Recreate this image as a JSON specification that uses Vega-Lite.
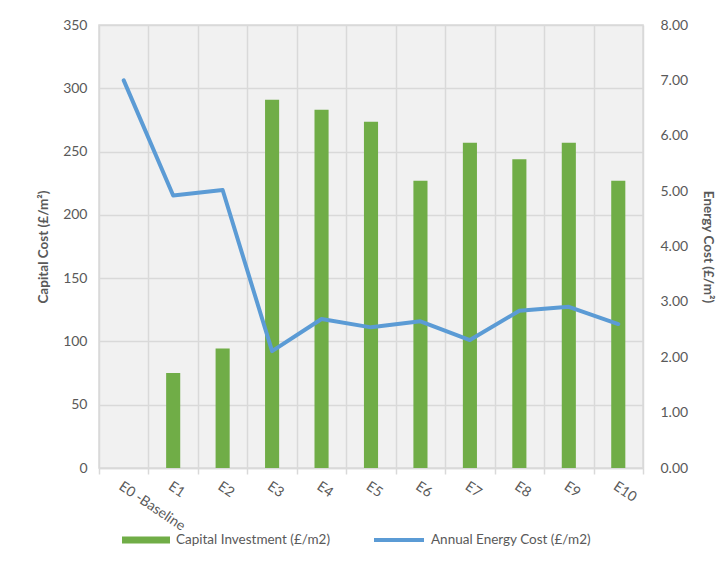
{
  "$schema": "https://vega.github.io/schema/vega-lite/v6.json",
  "autosize": {"type": "none"},
  "width": 544,
  "height": 443,
  "padding": {"left": 99, "top": 25, "right": 81, "bottom": 94},
  "background": "white",
  "config": {
    "font": "Lato",
    "view": {"fill": "#f1f1f1", "stroke": "#d9d9d9", "strokeWidth": 1.5},
    "axis": {"labelColor": "#595959", "titleColor": "#595959", "labelFont": "Lato", "titleFont": "Lato", "gridColor": "#d9d9d9", "gridWidth": 1.5, "domainColor": "#d9d9d9", "tickColor": "#d9d9d9"},
    "legend": {"labelFont": "Lato", "labelColor": "#595959", "labelFontSize": 13.5}
  },
  "data": {
    "values": [
      {"scenario": "E0 -Baseline", "capital": null, "energy": 7.0},
      {"scenario": "E1", "capital": 75, "energy": 4.92},
      {"scenario": "E2", "capital": 94.5, "energy": 5.02},
      {"scenario": "E3", "capital": 291, "energy": 2.11},
      {"scenario": "E4", "capital": 283, "energy": 2.69},
      {"scenario": "E5", "capital": 273.5, "energy": 2.54},
      {"scenario": "E6", "capital": 227, "energy": 2.65},
      {"scenario": "E7", "capital": 257, "energy": 2.31},
      {"scenario": "E8", "capital": 244, "energy": 2.84},
      {"scenario": "E9", "capital": 257, "energy": 2.91},
      {"scenario": "E10", "capital": 227, "energy": 2.6}
    ]
  },
  "encoding": {
    "x": {
      "field": "scenario", "type": "nominal",
      "sort": ["E0 -Baseline", "E1", "E2", "E3", "E4", "E5", "E6", "E7", "E8", "E9", "E10"],
      "scale": {"paddingInner": 0, "paddingOuter": 0},
      "axis": {"title": null, "labelAngle": 34, "labelAlign": "left", "labelBaseline": "top", "labelFontSize": 14, "labelPadding": 5, "tickBand": "extent", "grid": true, "domain": true, "domainWidth": 1.5, "ticks": true, "tickSize": 6, "tickWidth": 1.5, "labelOverlap": false}
    }
  },
  "layer": [
    {
      "mark": {"type": "bar", "width": {"band": 0.285}},
      "encoding": {
        "y": {
          "field": "capital", "type": "quantitative",
          "scale": {"domain": [0, 350], "nice": false},
          "axis": {"title": "Capital Cost (£/m²)", "titleFontSize": 13.5, "titleFontWeight": "bold", "titlePadding": 12, "values": [0, 50, 100, 150, 200, 250, 300, 350], "labelFontSize": 14, "labelPadding": 12, "domain": false, "ticks": false, "grid": true}
        },
        "fill": {
          "datum": "Capital Investment (£/m2)",
          "scale": {"range": ["#70AD47"]},
          "legend": {"title": null, "orient": "none", "legendX": 23, "legendY": 491, "symbolType": "M-1,-0.15H1V0.15H-1Z", "symbolSize": 2304, "symbolStrokeWidth": 0, "labelOffset": 6}
        }
      }
    },
    {
      "mark": {"type": "line", "strokeWidth": 4, "strokeJoin": "round", "strokeCap": "round"},
      "encoding": {
        "y": {
          "field": "energy", "type": "quantitative",
          "scale": {"domain": [0, 8], "nice": false},
          "axis": {"title": "Energy Cost (£/m²)", "orient": "right", "titleFontSize": 13.5, "titleFontWeight": "bold", "titlePadding": 13, "format": ".2f", "values": [0, 1, 2, 3, 4, 5, 6, 7, 8], "labelFontSize": 14, "labelPadding": 17, "domain": false, "ticks": false, "grid": false}
        },
        "stroke": {
          "datum": "Annual Energy Cost (£/m2)",
          "scale": {"range": ["#5B9BD5"]},
          "legend": {"title": null, "orient": "none", "legendX": 273, "legendY": 488, "symbolType": "stroke", "symbolSize": 2500, "symbolStrokeWidth": 4, "labelOffset": 5}
        }
      }
    }
  ],
  "resolve": {"scale": {"y": "independent"}}
}
